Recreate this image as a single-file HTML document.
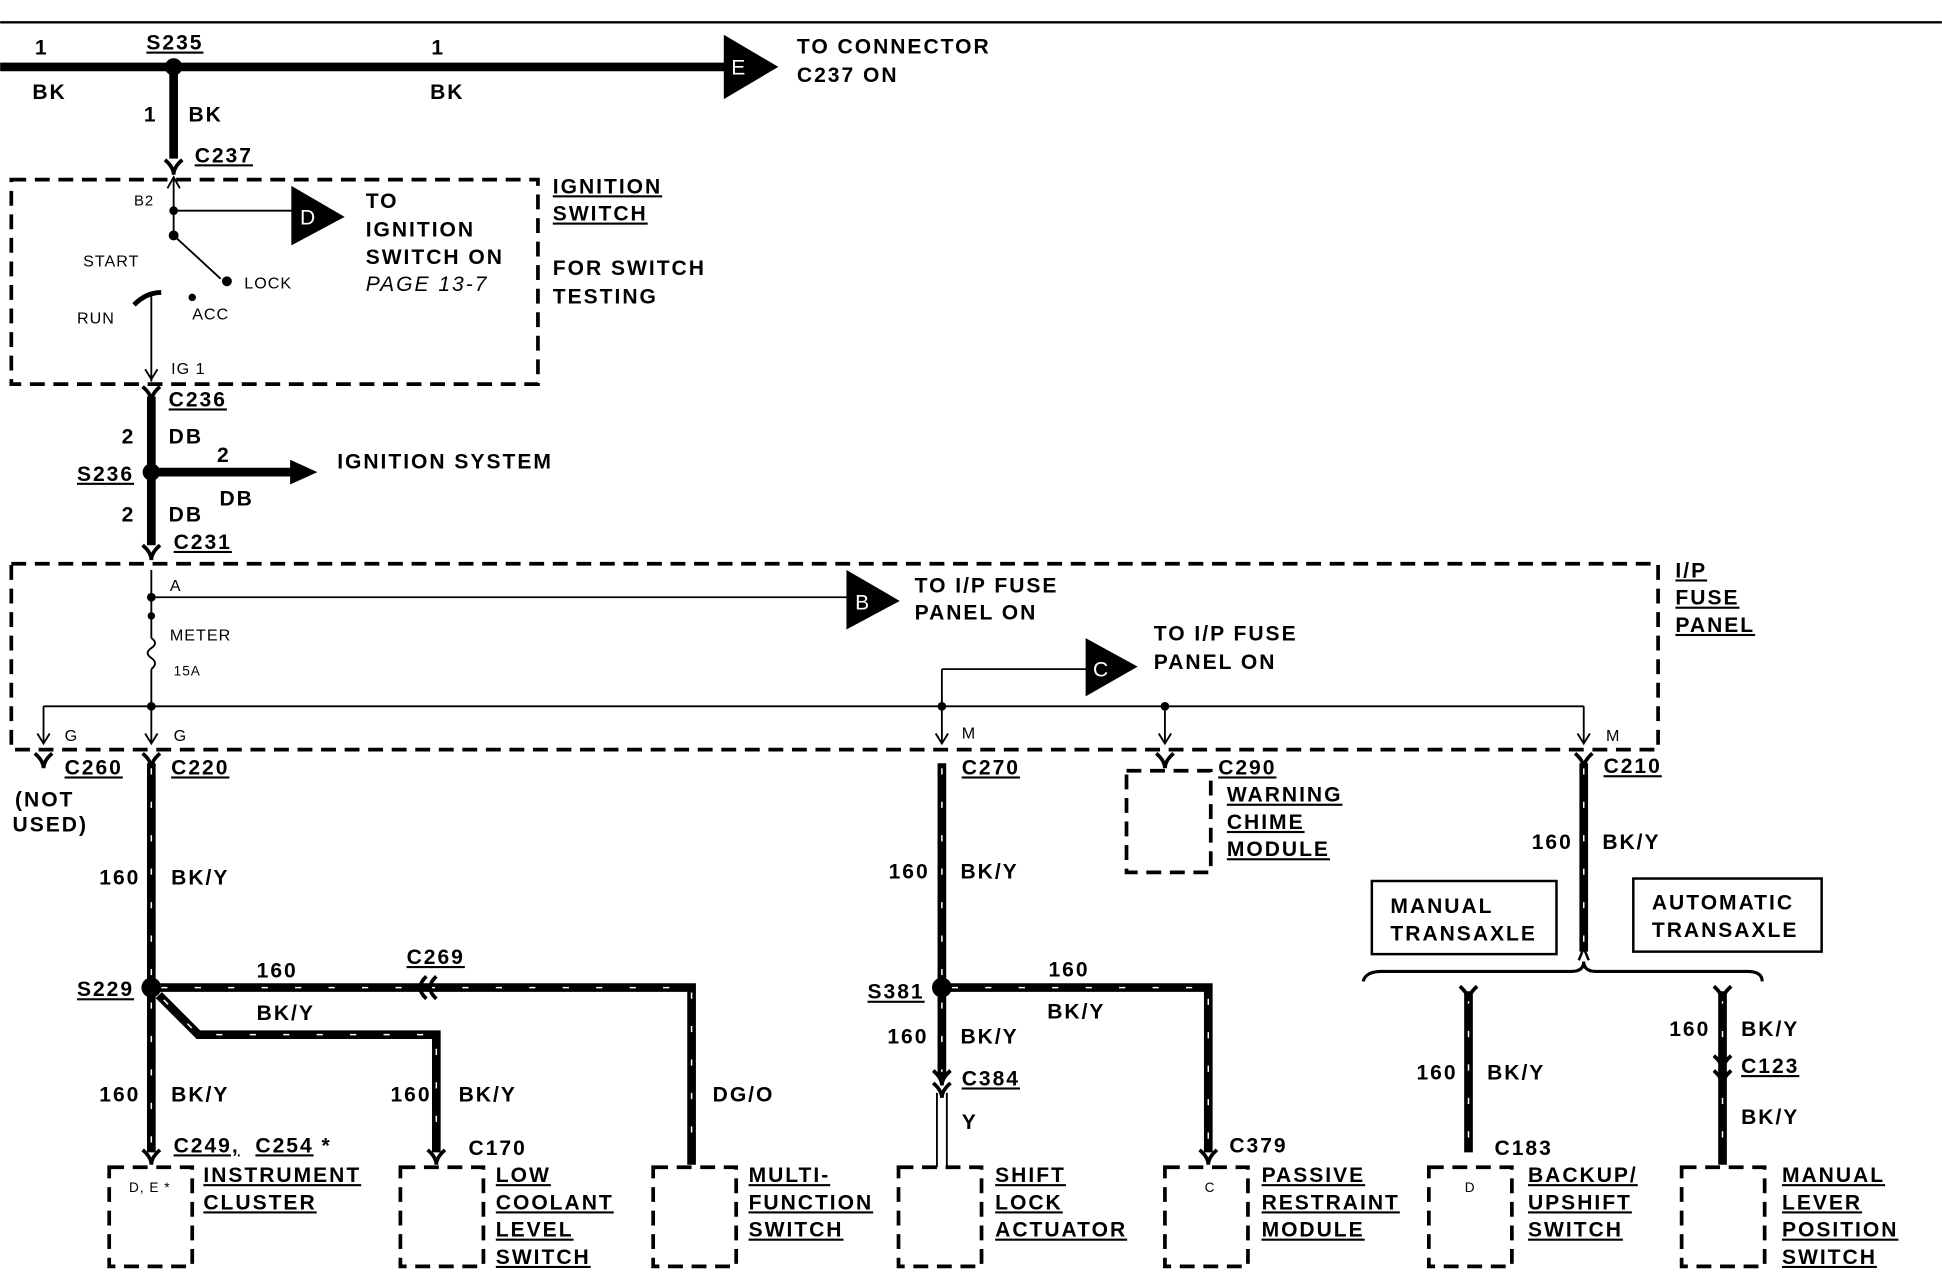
<!DOCTYPE html>
<html><head><meta charset="utf-8"><style>
html,body{margin:0;padding:0;background:#fff;}
svg{display:block;}
text{font-family:"Liberation Sans",sans-serif;font-weight:bold;font-size:17px;fill:#000;letter-spacing:1.6px;}
.s{font-size:13px;font-weight:normal;letter-spacing:0.8px;}
.u{text-decoration:underline;}
</style></head><body>
<svg width="1942" height="1280" viewBox="0 0 1567 1033" xmlns="http://www.w3.org/2000/svg">
<defs>
<g id="fork"><path d="M-7,-6 Q0,0 0,6 Q0,0 7,-6" fill="none" stroke="#000" stroke-width="3"/></g>
</defs>
<line x1="0" y1="18" x2="1567" y2="18" stroke="#000" stroke-width="2"/>
<line x1="0" y1="54" x2="592" y2="54" stroke="#000" stroke-width="7"/>
<path d="M584,28 L628,54 L584,80 Z" fill="#000"/>
<text x="590" y="60" style="fill:#fff;font-weight:normal">E</text>
<circle cx="140" cy="54" r="7" fill="#000"/>
<text x="28" y="44">1</text><text x="118" y="40" class="u">S235</text><text x="348" y="44">1</text>
<text x="26" y="80">BK</text><text x="347" y="80">BK</text>
<text x="643" y="43">TO CONNECTOR</text><text x="643" y="66">C237 ON</text>
<line x1="140" y1="54" x2="140" y2="128" stroke="#000" stroke-width="7"/>
<text x="116" y="98">1</text><text x="152" y="98">BK</text>
<text x="157" y="131" class="u">C237</text>
<use href="#fork" x="140" y="135"/>
<rect x="9" y="145" width="425" height="165" fill="none" stroke="#000" stroke-width="3" stroke-dasharray="12,7"/>
<line x1="140" y1="143" x2="140" y2="190" stroke="#000" stroke-width="1.5"/>
<path d="M135,152 L140,143 L145,152" fill="none" stroke="#000" stroke-width="1.5"/>
<text x="108" y="166" class="s" style="font-size:12px">B2</text>
<line x1="140" y1="170" x2="236" y2="170" stroke="#000" stroke-width="1.5"/>
<circle cx="140" cy="170" r="3.5" fill="#000"/>
<path d="M235,150 L278,175 L235,198 Z" fill="#000"/>
<text x="242" y="181" style="fill:#fff;font-weight:normal">D</text>
<text x="295" y="168">TO</text><text x="295" y="191">IGNITION</text><text x="295" y="213">SWITCH ON</text>
<text x="295" y="235" style="font-style:italic;font-weight:normal">PAGE 13-7</text>
<text x="446" y="156" class="u">IGNITION</text><text x="446" y="178" class="u">SWITCH</text>
<text x="446" y="222">FOR SWITCH</text><text x="446" y="245">TESTING</text>
<circle cx="140" cy="190" r="4" fill="#000"/>
<line x1="140" y1="190" x2="178" y2="225" stroke="#000" stroke-width="1.5"/>
<circle cx="183" cy="227" r="4" fill="#000"/>
<circle cx="155" cy="240" r="3" fill="#000"/>
<text x="197" y="233" class="s">LOCK</text><text x="67" y="215" class="s">START</text>
<text x="62" y="261" class="s">RUN</text><text x="155" y="258" class="s">ACC</text>
<path d="M108,246 Q118,236 130,236" fill="none" stroke="#000" stroke-width="4"/>
<line x1="122" y1="236" x2="122" y2="308" stroke="#000" stroke-width="1.5"/>
<path d="M117,298 L122,306 L127,298" fill="none" stroke="#000" stroke-width="1.5"/>
<text x="138" y="302" class="s">IG 1</text>
<use href="#fork" x="122" y="318"/>
<text x="136" y="328" class="u">C236</text>
<line x1="122" y1="320" x2="122" y2="440" stroke="#000" stroke-width="7"/>
<text x="98" y="358">2</text><text x="136" y="358">DB</text>
<circle cx="122" cy="381" r="7" fill="#000"/>
<text x="62" y="388" class="u">S236</text>
<line x1="122" y1="381" x2="238" y2="381" stroke="#000" stroke-width="7"/>
<path d="M234,371 L256,381 L234,391 Z" fill="#000"/>
<text x="175" y="373">2</text><text x="177" y="408">DB</text>
<text x="272" y="378">IGNITION SYSTEM</text>
<text x="98" y="421">2</text><text x="136" y="421">DB</text>
<text x="140" y="443" class="u">C231</text>
<use href="#fork" x="122" y="446"/>
<rect x="9" y="455" width="1329" height="150" fill="none" stroke="#000" stroke-width="3" stroke-dasharray="12,7"/>
<line x1="122" y1="460" x2="122" y2="515" stroke="#000" stroke-width="1.5"/>
<line x1="122" y1="540" x2="122" y2="600" stroke="#000" stroke-width="1.5"/>
<path d="M122,515 q6,4 0,8 q-6,4 0,8 q6,4 0,9" fill="none" stroke="#000" stroke-width="1.5"/>
<circle cx="122" cy="482" r="3.5" fill="#000"/><circle cx="122" cy="497" r="3" fill="#000"/>
<text x="137" y="477" class="s">A</text><text x="137" y="517" class="s">METER</text><text x="140" y="545" class="s" style="font-size:11px">15A</text>
<line x1="122" y1="482" x2="685" y2="482" stroke="#000" stroke-width="1.5"/>
<path d="M683,460 L726,485 L683,508 Z" fill="#000"/>
<text x="690" y="492" style="fill:#fff;font-weight:normal">B</text>
<text x="738" y="478">TO I/P FUSE</text><text x="738" y="500">PANEL ON</text>
<line x1="35" y1="570" x2="1278" y2="570" stroke="#000" stroke-width="1.5"/>
<g stroke="#000" stroke-width="1.5" fill="none">
<line x1="35" y1="570" x2="35" y2="600"/><line x1="760" y1="540" x2="760" y2="600"/>
<line x1="940" y1="570" x2="940" y2="600"/><line x1="1278" y1="570" x2="1278" y2="600"/>
<path d="M30,592 L35,600 L40,592 M117,592 L122,600 L127,592 M755,592 L760,600 L765,592 M935,592 L940,600 L945,592 M1273,592 L1278,600 L1283,592"/>
<line x1="760" y1="540" x2="878" y2="540"/>
</g>
<circle cx="122" cy="570" r="3.5" fill="#000"/><circle cx="760" cy="570" r="3.5" fill="#000"/><circle cx="940" cy="570" r="3.5" fill="#000"/>
<path d="M876,515 L918,538 L876,562 Z" fill="#000"/>
<text x="882" y="546" style="fill:#fff;font-weight:normal">C</text>
<text x="931" y="517">TO I/P FUSE</text><text x="931" y="540">PANEL ON</text>
<text x="52" y="598" class="s">G</text><text x="140" y="598" class="s">G</text>
<text x="776" y="596" class="s">M</text><text x="1296" y="598" class="s">M</text>
<text x="1352" y="466" class="u">I/P</text><text x="1352" y="488" class="u">FUSE</text><text x="1352" y="510" class="u">PANEL</text>
<use href="#fork" x="35" y="614"/>
<text x="52" y="625" class="u">C260</text><text x="12" y="651">(NOT</text><text x="10" y="671">USED)</text>
<use href="#fork" x="122" y="614"/>
<text x="138" y="625" class="u">C220</text>
<g stroke="#000" stroke-width="7" fill="none">
<line x1="122" y1="616" x2="122" y2="930"/>
<path d="M122,797 L558,797 L558,940"/>
<path d="M128,803 L160,835 L352,835 L352,930"/>
<line x1="760" y1="616" x2="760" y2="870"/>
<path d="M760,797 L975,797 L975,930"/>
<line x1="1278" y1="616" x2="1278" y2="768"/>
<line x1="1185" y1="800" x2="1185" y2="930"/>
<line x1="1390" y1="800" x2="1390" y2="940"/>
</g>
<g stroke="#fff" stroke-width="1.2" fill="none" stroke-dasharray="5,22">
<line x1="122" y1="620" x2="122" y2="925"/>
<path d="M130,797 L558,797 L558,935"/>
<path d="M132,807 L160,835 L352,835 L352,925"/>
<line x1="760" y1="620" x2="760" y2="865"/>
<path d="M768,797 L975,797 L975,925"/>
<line x1="1278" y1="620" x2="1278" y2="765"/>
<line x1="1185" y1="805" x2="1185" y2="925"/>
<line x1="1390" y1="805" x2="1390" y2="935"/>
</g>
<circle cx="122" cy="797" r="8" fill="#000"/><circle cx="760" cy="797" r="8" fill="#000"/>
<text x="80" y="714">160</text><text x="138" y="714">BK/Y</text>
<text x="62" y="804" class="u">S229</text>
<text x="207" y="789">160</text><text x="207" y="823">BK/Y</text>
<text x="328" y="778" class="u">C269</text>
<path d="M352,788 Q342,797 352,806 M344,788 Q334,797 344,806" fill="none" stroke="#000" stroke-width="3"/>
<text x="80" y="889">160</text><text x="138" y="889">BK/Y</text>
<text x="315" y="889">160</text><text x="370" y="889">BK/Y</text>
<text x="575" y="889">DG/O</text>
<text x="140" y="930" class="u">C249,</text><text x="206" y="930"><tspan class="u">C254</tspan> *</text>
<text x="378" y="932">C170</text>
<use href="#fork" x="122" y="934"/><use href="#fork" x="352" y="934"/>
<text x="776" y="625" class="u">C270</text>
<text x="717" y="709">160</text><text x="775" y="709">BK/Y</text>
<text x="700" y="806" class="u">S381</text>
<text x="846" y="788">160</text><text x="845" y="822">BK/Y</text>
<text x="716" y="842">160</text><text x="775" y="842">BK/Y</text>
<text x="776" y="876" class="u">C384</text>
<use href="#fork" x="760" y="870"/><use href="#fork" x="760" y="880"/>
<line x1="756" y1="882" x2="756" y2="942" stroke="#000" stroke-width="1.5"/>
<line x1="764" y1="882" x2="764" y2="942" stroke="#000" stroke-width="1.5"/>
<text x="776" y="911">Y</text>
<text x="992" y="930">C379</text>
<use href="#fork" x="975" y="934"/>
<use href="#fork" x="940" y="614"/>
<rect x="909" y="622" width="68" height="82" fill="none" stroke="#000" stroke-width="3" stroke-dasharray="12,7"/>
<text x="983" y="625" class="u">C290</text>
<text x="990" y="647" class="u">WARNING</text><text x="990" y="669" class="u">CHIME</text><text x="990" y="691" class="u">MODULE</text>
<use href="#fork" x="1278" y="614"/>
<text x="1294" y="624" class="u">C210</text>
<text x="1236" y="685">160</text><text x="1293" y="685">BK/Y</text>
<rect x="1107" y="711" width="149" height="59" fill="none" stroke="#000" stroke-width="2"/>
<text x="1122" y="737">MANUAL</text><text x="1122" y="759">TRANSAXLE</text>
<rect x="1318" y="709" width="152" height="59" fill="none" stroke="#000" stroke-width="2"/>
<text x="1333" y="734">AUTOMATIC</text><text x="1333" y="756">TRANSAXLE</text>
<path d="M1278,765 L1274,775 M1278,765 L1282,775" stroke="#000" stroke-width="2"/>
<path d="M1100,792 Q1102,784 1115,784 L1268,784 Q1278,784 1278,776 Q1278,784 1288,784 L1410,784 Q1422,784 1422,792" fill="none" stroke="#000" stroke-width="2.5"/>
<use href="#fork" x="1185" y="802"/><use href="#fork" x="1390" y="802"/>
<text x="1143" y="871">160</text><text x="1200" y="871">BK/Y</text>
<text x="1206" y="932">C183</text>
<text x="1347" y="836">160</text><text x="1405" y="836">BK/Y</text>
<text x="1405" y="866" class="u">C123</text>
<use href="#fork" x="1390" y="858"/><use href="#fork" x="1390" y="870"/>
<text x="1405" y="907">BK/Y</text>
<g fill="none" stroke="#000" stroke-width="3" stroke-dasharray="12,7">
<rect x="88" y="942" width="67" height="80"/>
<rect x="323" y="942" width="67" height="80"/>
<rect x="527" y="942" width="67" height="80"/>
<rect x="725" y="942" width="67" height="80"/>
<rect x="940" y="942" width="67" height="80"/>
<rect x="1153" y="942" width="67" height="80"/>
<rect x="1357" y="942" width="67" height="80"/>
</g>
<text x="104" y="962" class="s" style="font-size:11px">D, E *</text>
<text x="972" y="962" class="s" style="font-size:11px">C</text>
<text x="1182" y="962" class="s" style="font-size:11px">D</text>
<text x="164" y="954" class="u">INSTRUMENT</text><text x="164" y="976" class="u">CLUSTER</text>
<text x="400" y="954" class="u">LOW</text><text x="400" y="976" class="u">COOLANT</text><text x="400" y="998" class="u">LEVEL</text><text x="400" y="1020" class="u">SWITCH</text>
<text x="604" y="954" class="u">MULTI-</text><text x="604" y="976" class="u">FUNCTION</text><text x="604" y="998" class="u">SWITCH</text>
<text x="803" y="954" class="u">SHIFT</text><text x="803" y="976" class="u">LOCK</text><text x="803" y="998" class="u">ACTUATOR</text>
<text x="1018" y="954" class="u">PASSIVE</text><text x="1018" y="976" class="u">RESTRAINT</text><text x="1018" y="998" class="u">MODULE</text>
<text x="1233" y="954" class="u">BACKUP/</text><text x="1233" y="976" class="u">UPSHIFT</text><text x="1233" y="998" class="u">SWITCH</text>
<text x="1438" y="954" class="u">MANUAL</text><text x="1438" y="976" class="u">LEVER</text><text x="1438" y="998" class="u">POSITION</text><text x="1438" y="1020" class="u">SWITCH</text>
</svg>
</body></html>
